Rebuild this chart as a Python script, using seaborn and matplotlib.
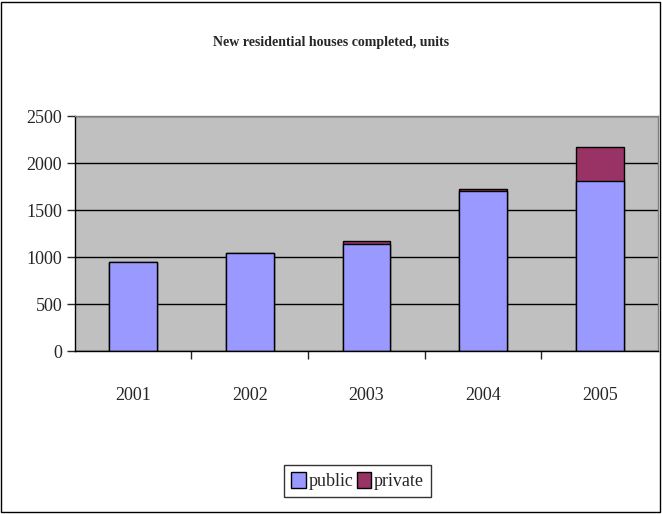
import pandas as pd
import seaborn as sns
import matplotlib.pyplot as plt
from matplotlib.patches import Rectangle, Patch

years = ['2001', '2002', '2003', '2004', '2005']
public = [945, 1040, 1135, 1700, 1815]
private = [0, 0, 35, 20, 355]

df = pd.DataFrame({'year': years, 'public': public, 'private': private})
df['total'] = df['public'] + df['private']

sns.set_style('white')
plt.rcParams['font.family'] = ['Liberation Serif', 'DejaVu Serif']

fig = plt.figure(figsize=(6.62, 5.14), dpi=100)
ax = fig.add_axes([0.113, 0.317, 0.881, 0.457])

# total first (private colour), public drawn over it
sns.barplot(data=df, x='year', y='total', color='#993366', width=0.41,
            edgecolor='black', linewidth=1, saturation=1, ax=ax)
sns.barplot(data=df, x='year', y='public', color='#9999FF', width=0.41,
            edgecolor='black', linewidth=1, saturation=1, ax=ax)

ax.set_facecolor('#C0C0C0')
ax.set_ylim(0, 2500)
ax.set_xlim(-0.5, 4.5)
ax.set_yticks(range(0, 2501, 500))
ax.yaxis.grid(True, color='black', linewidth=1)
ax.set_axisbelow(True)
for s in ax.spines.values():
    s.set_color('#808080')
    s.set_linewidth(1)
ax.spines['left'].set_color('black')
ax.spines['bottom'].set_color('black')

ax.set_xlabel('')
ax.set_ylabel('')
ax.tick_params(axis='y', direction='out', length=6, width=1, left=True,
               labelsize=13, pad=3)
ax.tick_params(axis='x', length=0, labelsize=13, pad=26)
ax.set_xticks([0.5, 1.5, 2.5, 3.5], minor=True)
ax.tick_params(axis='x', which='minor', direction='out', length=6, width=1,
               bottom=True)

fig.text(0.5, 0.918, 'New residential houses completed, units',
         ha='center', va='center', fontsize=10, fontweight='bold')

handles = [Patch(facecolor='#9999FF', edgecolor='black', label='public'),
           Patch(facecolor='#993366', edgecolor='black', label='private')]
fig.legend(handles=handles, loc='center', bbox_to_anchor=(0.54, 0.064),
           ncol=2, frameon=True, fancybox=False, edgecolor='black',
           fontsize=13, handlelength=0.8, handleheight=1.0,
           handletextpad=0.15, columnspacing=0.2, borderpad=0.4,
           borderaxespad=0.2)

fig.patches.append(Rectangle((0.002, 0.003), 0.995, 0.994, fill=False,
                             edgecolor='black', linewidth=1,
                             transform=fig.transFigure))

fig.savefig('out.png', dpi=100)
